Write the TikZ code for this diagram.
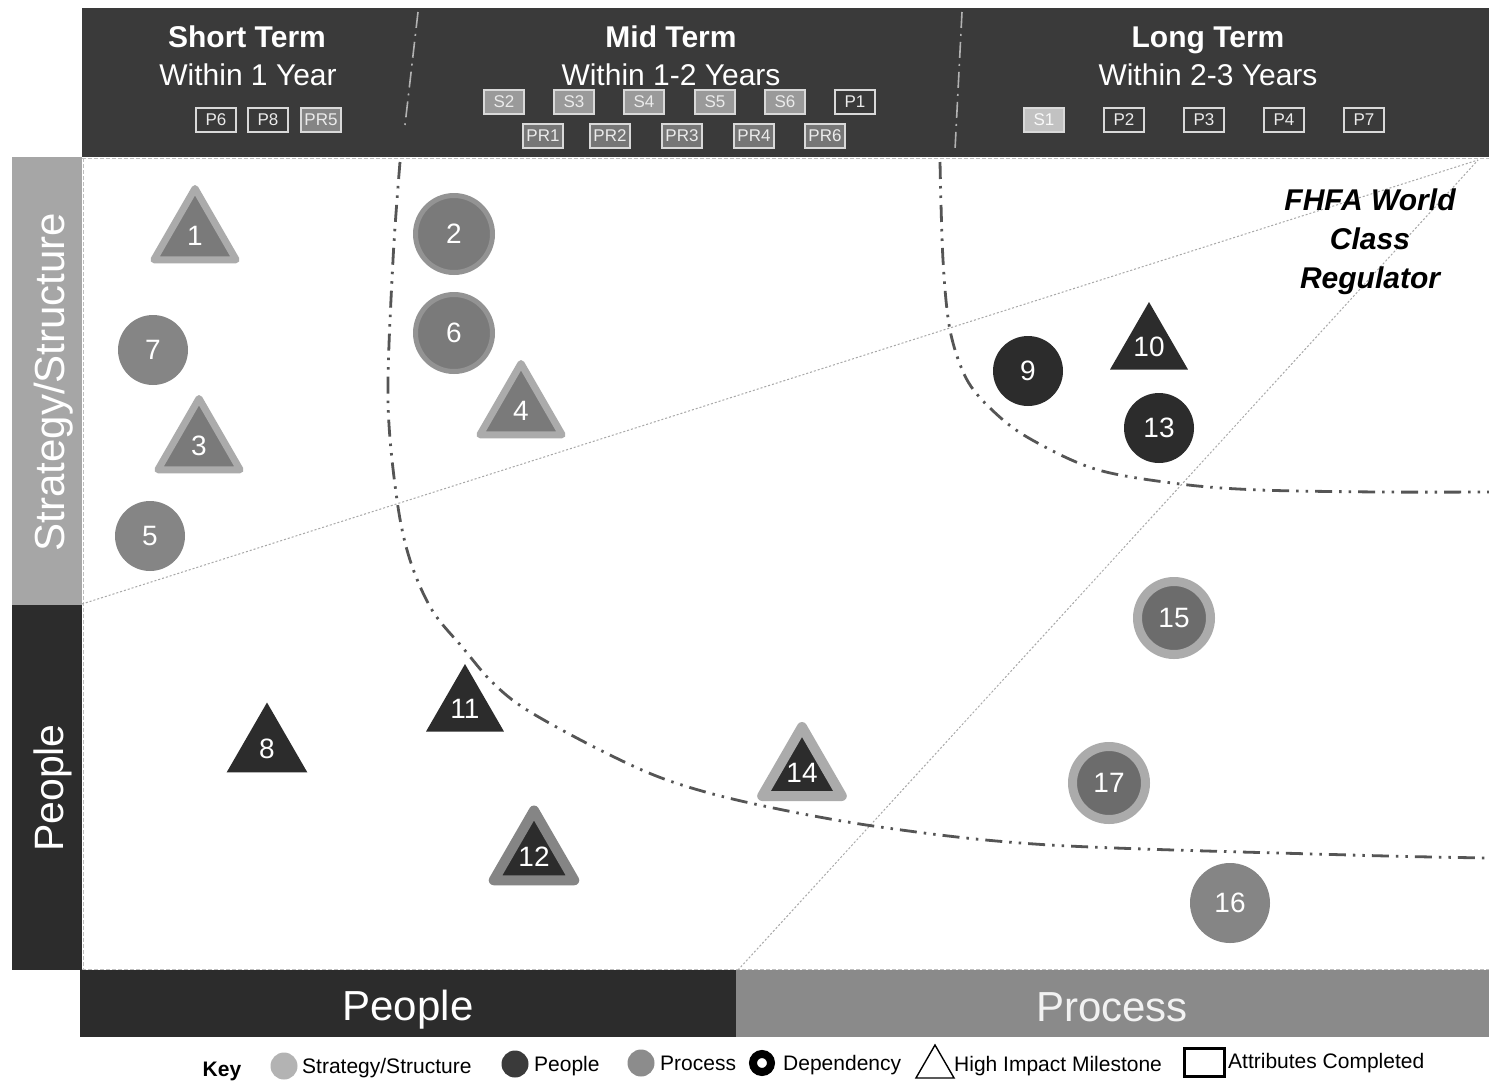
\documentclass[tikz,border=0pt]{standalone}
\usepackage{fontspec}
\setmainfont{Liberation Sans}
\usetikzlibrary{shapes.geometric}
\definecolor{hdr}{HTML}{3A3A3A}
\definecolor{dk}{HTML}{2C2C2C}
\definecolor{strip}{HTML}{A6A6A6}
\definecolor{procbar}{HTML}{8A8A8A}
\definecolor{md}{HTML}{858585}
\definecolor{mdin}{HTML}{7A7A7A}
\definecolor{mdring}{HTML}{939393}
\definecolor{ltring}{HTML}{ABABAB}
\definecolor{inner15}{HTML}{6C6C6C}
\definecolor{curvec}{HTML}{555555}
\definecolor{dotc}{HTML}{A8A8A8}
\definecolor{tagS}{HTML}{9A9A9A}
\definecolor{tagPR}{HTML}{767676}
\definecolor{tagSone}{HTML}{C2C2C2}
\definecolor{keylt}{HTML}{B3B3B3}
\definecolor{keydk}{HTML}{3A3A3A}
\definecolor{keymd}{HTML}{8C8C8C}
\newcommand\fsz[2]{\fontsize{#1}{#2}\selectfont}
\begin{document}
\begin{tikzpicture}[x=1pt,y=-1pt,
  capc/.style={text height=#1, text depth=0pt},
  tag/.style={draw=white!85!black, line width=1.4pt, minimum width=40pt, minimum height=24pt, inner sep=0pt, font=\fsz{17}{19}, text=white!92!black},
  tags/.style={tag, fill=tagS},
  tagp/.style={tag, fill=hdr},
  tagpr/.style={tag, fill=tagPR},
  hdtitle/.style={capc=21.5pt, text=white, font=\bfseries\fsz{30}{34}},
  hdsub/.style={capc=21.5pt, text=white, font=\fsz{30}{34}},
  circ/.style={circle, inner sep=0pt, text=white, font=\fsz{28}{30}},
  tri/.style={regular polygon, regular polygon sides=3, inner sep=0pt, text=white, font=\fsz{28}{30}, line join=round},
  curve/.style={draw=curvec, line width=2.8pt, dash pattern=on 17pt off 7pt on 2.5pt off 7pt on 2.5pt off 7pt},
  hdiv/.style={draw=white!70!black, line width=1.6pt, dash pattern=on 16pt off 6pt on 2pt off 6pt},
  dotl/.style={draw=dotc, line width=1pt, dash pattern=on 2pt off 2pt},
  keytext/.style={capc=15pt, anchor=west, font=\fsz{21}{24}, inner sep=0pt},
]
\useasboundingbox (0,0) rectangle (1489,1085);
\fill[white] (0,0) rectangle (1489,1085);

% header band
\fill[hdr] (82,8) rectangle (1489,157);
% side strip
\fill[strip] (12,157) rectangle (82,605);
\fill[dk] (12,605) rectangle (82,970);
% bottom bars
\fill[dk] (80,970) rectangle (736,1037);
\fill[procbar] (736,970) rectangle (1489,1037);
% dashed frame of the plot area
\draw[white!75!black, line width=1pt, dash pattern=on 4pt off 2pt] (82,158) -- (1489,158);
\draw[white!75!black, line width=1pt, dash pattern=on 4pt off 2pt] (82,969) -- (1489,969);
\draw[white!75!black, line width=1pt, dash pattern=on 4pt off 2pt] (83,158) -- (83,969);

% header dividers
\draw[hdiv] (418,12) -- (405,125);
\draw[hdiv] (962,12) -- (955,150);

% header texts
\node[hdtitle] (st) at (247,37) {Short Term};
\node[hdsub] (sts) at (248,75) {Within 1 Year};
\node[hdtitle] (mt) at (671,37) {Mid Term};
\node[hdsub] (mts) at (671,75) {Within 1-2 Years};
\node[hdtitle] (lt) at (1208,37) {Long Term};
\node[hdsub] (lts) at (1208,75) {Within 2-3 Years};

% tags short term
\node[tagp] (tP6) at (216,120) {P6};
\node[tagp] (tP8) at (268,120) {P8};
\node[tagpr, fill=md] (tPR5) at (321,120) {PR5};
% tags mid term
\node[tags] (tS2) at (504,102) {S2};
\node[tags] (tS3) at (574,102) {S3};
\node[tags] (tS4) at (644,102) {S4};
\node[tags] (tS5) at (715,102) {S5};
\node[tags] (tS6) at (785,102) {S6};
\node[tagp] (tP1) at (855,102) {P1};
\node[tagpr] (tPR1) at (543,136) {PR1};
\node[tagpr] (tPR2) at (610,136) {PR2};
\node[tagpr] (tPR3) at (682,136) {PR3};
\node[tagpr] (tPR4) at (754,136) {PR4};
\node[tagpr] (tPR6) at (825,136) {PR6};
% tags long term
\node[tag, fill=tagSone, text=white!90!tagSone] (tS1) at (1044,120) {S1};
\node[tagp] (tP2) at (1124,120) {P2};
\node[tagp] (tP3) at (1204,120) {P3};
\node[tagp] (tP4) at (1284,120) {P4};
\node[tagp] (tP7) at (1364,120) {P7};

% side labels
\node[capc=30pt, rotate=90, text=white, font=\fsz{42}{46}] (ls) at (49,382) {Strategy/Structure};
\node[capc=29.5pt, rotate=90, text=white, font=\fsz{41}{46}] (lp) at (49,788) {People};
% bottom labels
\node[capc=30pt, text=white, font=\fsz{42}{46}] (bp) at (408,1005) {People};
\node[capc=30pt, text=white!95!black, font=\fsz{42}{46}] (bq) at (1112,1006) {Process};

% dotted diagonals
\coordinate (tr) at (1478,160);
\coordinate (dl) at (82,604);
\coordinate (db) at (738,970);
\draw[dotl] (dl) -- (tr);
\draw[dotl] (db) -- (tr);

% dash-dot horizon curves
\draw[curve] plot[smooth, tension=0.55] coordinates {(400,162) (393,260) (388,400) (397,500) (410,560) (432,610) (463,648) (492,682) (527,710) (600,750) (667,780) (750,803) (880,827) (1050,845) (1350,855) (1489,858)};
\draw[curve] plot[smooth, tension=0.55] coordinates {(940,162) (943,260) (950,330) (966,378) (990,408) (1027,437) (1095,469) (1180,484) (1260,490) (1380,492) (1489,492)};

% title
\node[font=\bfseries\itshape\fsz{30}{39}, align=center] (fhfa) at (1370,242) {FHFA World\\Class\\Regulator};

% milestones
\node[tri, fill=mdin, draw=ltring, line width=7pt, minimum size=95pt] (n1) at (195,236) {1};
\node[circ, fill=mdin, draw=mdring, line width=5pt, minimum size=77pt] (n2) at (454,234) {2};
\node[tri, fill=mdin, draw=ltring, line width=7pt, minimum size=95pt] (n3) at (199,446) {3};
\node[tri, fill=mdin, draw=ltring, line width=7pt, minimum size=95pt] (n4) at (521,411) {4};
\node[circ, fill=md, minimum size=70pt] (n5) at (150,536) {5};
\node[circ, fill=mdin, draw=mdring, line width=5pt, minimum size=77pt] (n6) at (454,333) {6};
\node[circ, fill=md, minimum size=70pt] (n7) at (153,350) {7};
\node[tri, fill=dk, minimum size=93pt] (n8) at (267,749) {8};
\node[circ, fill=dk, minimum size=70pt] (n9) at (1028,371) {9};
\node[tri, fill=dk, minimum size=90pt] (n10) at (1149,347) {10};
\node[tri, fill=dk, minimum size=90pt] (n11) at (465,709) {11};
\node[tri, fill=dk, draw=md, line width=10pt, minimum size=93pt] (n12) at (534,857) {12};
\node[circ, fill=dk, minimum size=70pt] (n13) at (1159,428) {13};
\node[tri, fill=dk, draw=ltring, line width=10pt, minimum size=92pt] (n14) at (802,773) {14};
\node[circ, fill=inner15, draw=ltring, line width=9pt, minimum size=73pt] (n15) at (1174,618) {15};
\node[circ, fill=md, minimum size=80pt] (n16) at (1230,903) {16};
\node[circ, fill=inner15, draw=ltring, line width=9pt, minimum size=73pt] (n17) at (1109,783) {17};

% key
\node[capc=15pt, font=\bfseries\fsz{21}{24}] (key) at (222,1069) {Key};
\node[circle, fill=keylt, minimum size=27pt, inner sep=0pt] (k1) at (284,1066) {};
\node[keytext] (k1t) at (302,1066) {Strategy/Structure};
\node[circle, fill=keydk, minimum size=27pt, inner sep=0pt] (k2) at (515,1064) {};
\node[keytext] (k2t) at (534,1064) {People};
\node[circle, fill=keymd, minimum size=27pt, inner sep=0pt] (k3) at (641,1063) {};
\node[keytext] (k3t) at (660,1063) {Process};
\node[circle, draw=black, fill=white, line width=8pt, minimum size=18pt, inner sep=0pt] (k4) at (762,1063) {};
\node[keytext] (k4t) at (783,1063) {Dependency};
\node[regular polygon, regular polygon sides=3, draw=black, line width=1.4pt, minimum size=44pt, inner sep=0pt] (k5) at (935,1067) {};
\node[keytext] (k5t) at (954,1064) {High Impact Milestone};
\node[draw=black, line width=3pt, minimum width=40pt, minimum height=28pt, inner sep=0pt] (k6) at (1204,1062) {};
\node[keytext] (k6t) at (1228,1061) {Attributes Completed};
\end{tikzpicture}
\end{document}
